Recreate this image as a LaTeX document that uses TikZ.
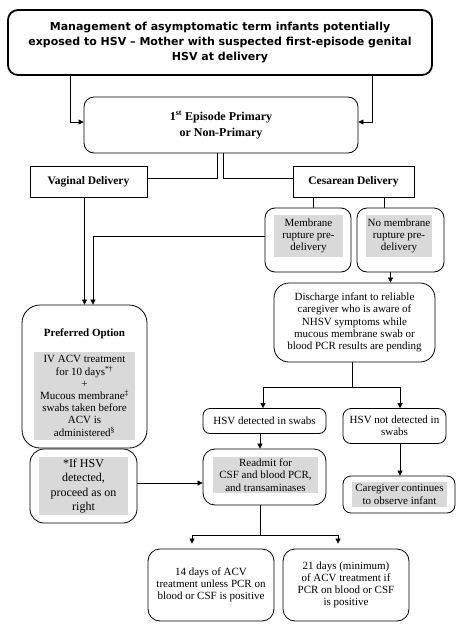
\documentclass[tikz,border=0pt]{standalone}
\usepackage{fontspec}
\setmainfont{Liberation Serif}
\newfontfamily\headfont{DejaVu Sans}
\usetikzlibrary{positioning, arrows.meta}
\definecolor{boxgray}{RGB}{217,217,217}

\begin{document}
\begin{tikzpicture}[x=1pt, y=-1pt, >={Triangle[length=5pt, width=5pt]}, line width=0.6pt,
        every node/.style={align=center, inner sep=0pt, font=\fontsize{11}{12.2}\selectfont}]
    \tikzset{
        titlebox/.style={draw, line width=1.8pt, rounded corners=10pt, font=\headfont\bfseries\fontsize{11}{15}\selectfont},
        roundbox/.style={draw, line width=0.8pt, rounded corners=10pt},
        plainbox/.style={draw, line width=0.8pt, font=\bfseries\fontsize{11.5}{14}\selectfont},
        shaded/.style={fill=boxgray}
    }
    \useasboundingbox (0,0) rectangle (467,640);

    % TITLE
    \node[titlebox, minimum width=424pt, minimum height=65pt] (title) at (220,42.5)
        {Management of asymptomatic term infants potentially\\exposed to HSV – Mother with suspected first-episode genital\\HSV at delivery};

    % EPISODE AND DELIVERY
    \node[roundbox, minimum width=274pt, minimum height=56pt, font=\bfseries\fontsize{12}{16}\selectfont] (episode) at (221,125)
        {1\textsuperscript{st} Episode Primary\\or Non-Primary};
    \node[plainbox, minimum width=117pt, minimum height=31pt] (vaginal) at (88.5,181.5) {Vaginal Delivery};
    \node[plainbox, minimum width=121pt, minimum height=31pt] (cesarean) at (353.5,181.5) {Cesarean Delivery};

    % MEMBRANES
    \node[roundbox, minimum width=86pt, minimum height=64pt] (membrane) at (308,240) {};
    \node[shaded, minimum width=69pt, minimum height=42pt] (membranetext) at (308.5,236) {Membrane\\rupture pre-\\delivery};
    \node[roundbox, minimum width=87pt, minimum height=64pt] (nomembrane) at (400.5,240) {};
    \node[shaded, minimum width=66pt, minimum height=42pt] (nomembranetext) at (399,236) {No membrane\\rupture pre-\\delivery};

    % RIGHT BRANCH
    \node[roundbox, rounded corners=15pt, minimum width=161pt, minimum height=79pt] (discharge) at (354.5,322.5)
        {Discharge infant to reliable\\caregiver who is aware of\\NHSV symptoms while\\mucous membrane swab or\\blood PCR results are pending};
    \node[roundbox, rounded corners=7pt, minimum width=123pt, minimum height=25pt] (detected) at (264.5,421) {HSV detected in swabs};
    \node[roundbox, rounded corners=8pt, minimum width=103pt, minimum height=35pt] (notdetected) at (394.5,426) {HSV not detected in\\swabs};
    \node[roundbox, rounded corners=12pt, minimum width=123pt, minimum height=56pt] (readmit) at (264.5,477) {};
    \node[shaded, minimum width=105pt, minimum height=36pt] (readmittext) at (265.5,475) {Readmit for\\CSF and blood PCR,\\and transaminases};
    \node[roundbox, rounded corners=8pt, minimum width=112pt, minimum height=37pt] (observe) at (399,494.5) {};
    \node[shaded, minimum width=95pt, minimum height=25pt] (observetext) at (399.5,494.5) {Caregiver continues\\to observe infant};

    % LEFT BRANCH
    \node[roundbox, rounded corners=18pt, minimum width=125pt, minimum height=143pt] (preferred) at (84.5,376.5) {};
    \node[font=\bfseries\fontsize{11}{12.2}\selectfont] (prefhead) at (84.5,334) {Preferred Option};
    \node[shaded, minimum width=101pt, minimum height=88pt] (preftext) at (84.5,396)
        {IV ACV treatment\\for 10 days\textsuperscript{*†}\\+\\Mucous membrane\textsuperscript{‡}\\swabs taken before\\ACV is\\administered\textsuperscript{§}};
    \node[roundbox, rounded corners=14pt, minimum width=107pt, minimum height=74pt] (ifhsv) at (83.5,486) {};
    \node[shaded, minimum width=89pt, minimum height=58pt, font=\fontsize{12}{14.3}\selectfont] (ifhsvtext) at (83.5,486)
        {*If HSV\\detected,\\proceed as on\\right};

    % TREATMENT
    \node[roundbox, rounded corners=12pt, minimum width=126pt, minimum height=72pt] (acv14) at (211,585)
        {14 days of ACV\\treatment unless PCR on\\blood or CSF is positive};
    \node[roundbox, rounded corners=12pt, minimum width=126pt, minimum height=72pt] (acv21) at (346,585)
        {21 days (minimum)\\of ACV treatment if\\PCR on blood or CSF\\is positive};

    % CONNECTORS
    \draw[->] ([xshift=-150pt]title.south) |- ([yshift=3pt]episode.west);
    \draw[->] ([xshift=152pt]title.south) |- ([yshift=3pt]episode.east);
    \draw ([xshift=-4pt]episode.south) |- ([yshift=3pt]vaginal.east);
    \draw ([xshift=2pt]episode.south) |- ([yshift=3pt]cesarean.west);
    \draw ([xshift=5pt]membrane.north) -- ([xshift=5pt]membrane.north |- cesarean.south);
    \draw ([xshift=-16pt]nomembrane.north) -- ([xshift=-16pt]nomembrane.north |- cesarean.south);
    \draw[->] (vaginal.south -| preferred.north) -- (preferred.north);
    \draw[->] ([yshift=4pt]membrane.west) -| ([xshift=8.5pt]preferred.north);
    \draw[->] ([xshift=-10pt]nomembrane.south) -- ([xshift=-10pt]nomembrane.south |- discharge.north);
    \draw ([xshift=-2.5pt]discharge.south) -- ++(0,25) coordinate (dsplit);
    \draw[->] (dsplit) -| ([xshift=-1.5pt]detected.north);
    \draw[->] (dsplit) -| ([xshift=5.5pt]notdetected.north);
    \draw[->] ([xshift=-4.5pt]detected.south) -- ([xshift=-4.5pt]readmit.north);
    \draw[->] ([xshift=5.5pt]notdetected.south) -- ([xshift=1pt]observe.north);
    \draw[->] ([yshift=3pt]ifhsv.east) -- ([yshift=3pt]ifhsv.east -| readmit.west);
    \draw ([xshift=-4.5pt]readmit.south) -- ++(0,30) coordinate (rsplit);
    \draw[->, shorten >=5pt] (rsplit) -| ([xshift=-19pt]acv14.north);
    \draw[->, shorten >=5pt] (rsplit) -| ([xshift=-8pt]acv21.north);

\end{tikzpicture}
\end{document}
